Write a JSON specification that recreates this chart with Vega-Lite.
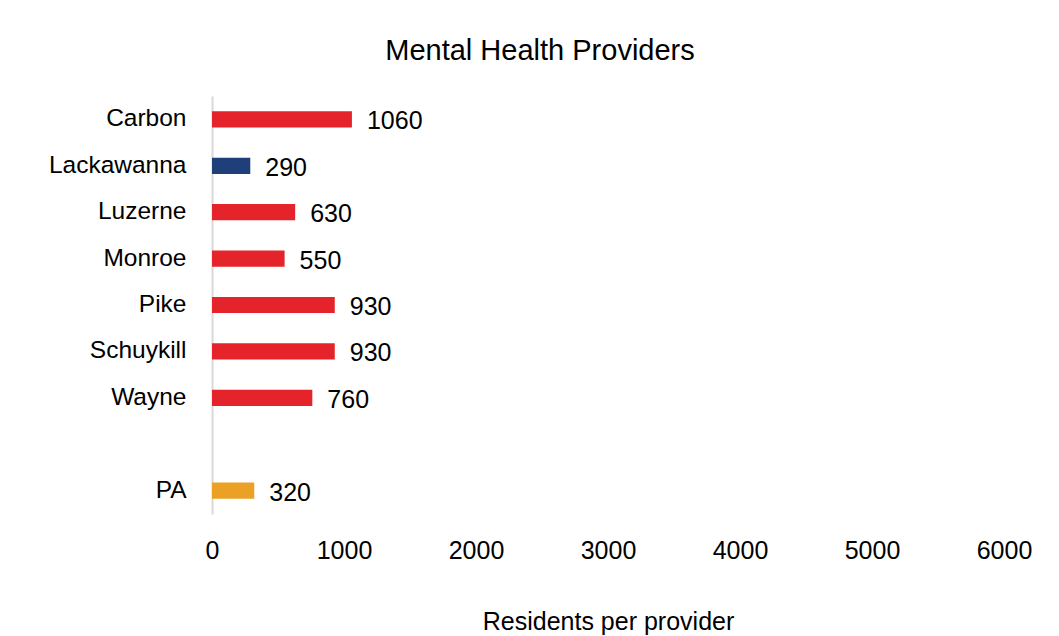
{
  "$schema": "https://vega.github.io/schema/vega-lite/v6.json",
  "width": 792,
  "height": 418,
  "autosize": {"type": "none"},
  "padding": {"left": 212, "top": 96, "right": 55, "bottom": 122},
  "background": "white",
  "title": {
    "text": "Mental Health Providers",
    "font": "Liberation Sans",
    "fontSize": 29,
    "fontWeight": "normal",
    "color": "#000000",
    "anchor": "middle",
    "frame": "group",
    "dx": -68,
    "offset": 30
  },
  "data": {
    "values": [
      {"county": "Carbon", "value": 1060, "group": "high"},
      {"county": "Lackawanna", "value": 290, "group": "low"},
      {"county": "Luzerne", "value": 630, "group": "high"},
      {"county": "Monroe", "value": 550, "group": "high"},
      {"county": "Pike", "value": 930, "group": "high"},
      {"county": "Schuykill", "value": 930, "group": "high"},
      {"county": "Wayne", "value": 760, "group": "high"},
      {"county": "PA", "value": 320, "group": "state"}
    ]
  },
  "encoding": {
    "y": {
      "field": "county",
      "type": "nominal",
      "scale": {
        "domain": ["Carbon", "Lackawanna", "Luzerne", "Monroe", "Pike", "Schuykill", "Wayne", " ", "PA"],
        "paddingInner": 0.65,
        "paddingOuter": 0.33
      },
      "axis": {
        "title": null,
        "ticks": false,
        "domainColor": "#d9d9d9",
        "domainWidth": 2,
        "labelFont": "Liberation Sans",
        "labelFontSize": 24.5,
        "labelColor": "#000000",
        "labelPadding": 26
      }
    },
    "x": {
      "field": "value",
      "type": "quantitative",
      "scale": {"domain": [0, 6000], "nice": false},
      "axis": {
        "title": "Residents per provider",
        "titleFont": "Liberation Sans",
        "titleFontSize": 25,
        "titleFontWeight": "normal",
        "titleColor": "#000000",
        "titlePadding": 46,
        "values": [0, 1000, 2000, 3000, 4000, 5000, 6000],
        "format": "d",
        "grid": false,
        "ticks": false,
        "domain": false,
        "labelFlush": false,
        "labelFont": "Liberation Sans",
        "labelFontSize": 25,
        "labelColor": "#000000",
        "labelPadding": 24
      }
    }
  },
  "layer": [
    {
      "mark": {"type": "bar"},
      "encoding": {
        "color": {
          "field": "group",
          "type": "nominal",
          "scale": {"domain": ["high", "low", "state"], "range": ["#E5232B", "#1F3F7A", "#EBA126"]},
          "legend": null
        }
      }
    },
    {
      "mark": {"type": "text", "align": "left", "baseline": "middle", "dx": 15, "dy": 2, "font": "Liberation Sans", "fontSize": 25, "color": "#000000"},
      "encoding": {"text": {"field": "value", "type": "quantitative", "format": "d"}}
    }
  ],
  "config": {"view": {"stroke": null}}
}
